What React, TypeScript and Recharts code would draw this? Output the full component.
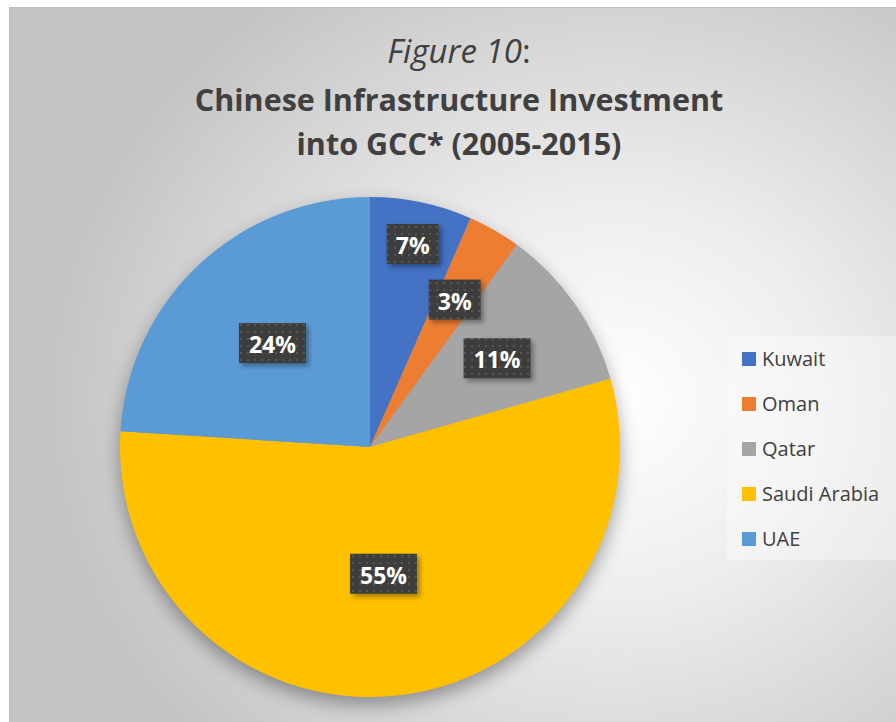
import React from 'react';
import { PieChart, Pie, Cell, Legend } from 'recharts';

const COUNTRIES = ['Kuwait', 'Oman', 'Qatar', 'Saudi Arabia', 'UAE'];
const SHARES = [6.6, 3.4, 10.6, 55.4, 24.0];
const COLORS = ['#4472C4', '#ED7D31', '#A5A5A5', '#FFC000', '#5B9BD5'];

// label distance from centre, as a share of the radius (Excel "best fit" look)
const LABEL_R = [0.83, 0.68, 0.62, 0.51, 0.57];

const data = COUNTRIES.map((name, i) => ({ name, value: SHARES[i] }));

const FONT = '"Open Sans", "Noto Sans", sans-serif';
const RAD = Math.PI / 180;

const renderLabel = (props: any) => {
  const { cx, cy, midAngle, outerRadius, percent, index } = props;
  const r = outerRadius * LABEL_R[index];
  const x = cx + r * Math.cos(-midAngle * RAD);
  const y = cy + r * Math.sin(-midAngle * RAD);
  const text = `${Math.round(percent * 100)}%`;
  const w = 22 + 15 * text.length;
  const h = 40;
  return (
    <g key={`lbl-${index}`}>
      <rect x={x - w / 2} y={y - h / 2} width={w} height={h} fill="url(#dots)" filter="url(#lblShadow)" />
      <text
        x={x}
        y={y + 1}
        textAnchor="middle"
        dominantBaseline="central"
        fill="#ffffff"
        fontFamily={FONT}
        fontWeight={700}
        fontSize={23}
      >
        {text}
      </text>
    </g>
  );
};

const renderLegend = (props: any) => {
  const { payload } = props;
  return (
    <div
      style={{
        width: 169,
        height: 224,
        background: 'rgba(255,255,255,0.35)',
        boxSizing: 'border-box',
      }}
    >
      {payload.map((entry: any, i: number) => (
        <div key={i} style={{ display: 'flex', alignItems: 'center', height: 45 }}>
          <div style={{ width: 14, height: 14, background: entry.color, marginLeft: 15, marginRight: 6 }} />
          <span style={{ fontFamily: FONT, fontSize: 20, color: '#404040' }}>{entry.value}</span>
        </div>
      ))}
    </div>
  );
};

export default function App() {
  return (
    <div style={{ position: 'absolute', left: 0, top: 0, width: 896, height: 722, overflow: 'hidden', background: '#ffffff' }}>
      <style>{`.recharts-pie { filter: drop-shadow(0px 8px 9px rgba(0,0,0,0.35)); }`}</style>
      <svg width={0} height={0} style={{ position: 'absolute' }}>
        <defs>
          <pattern id="dots" width={7} height={7} patternUnits="userSpaceOnUse">
            <rect width={7} height={7} fill="#3d3d3d" />
            <rect x={2} y={2} width={2} height={2} fill="#575757" />
          </pattern>
          <filter id="lblShadow" x="-30%" y="-30%" width="160%" height="160%">
            <feDropShadow dx={3} dy={3} stdDeviation={2.5} floodColor="#000" floodOpacity={0.35} />
          </filter>
        </defs>
      </svg>
      <div
        style={{
          position: 'absolute',
          left: 9,
          top: 7,
          width: 900,
          height: 730,
          border: '1px solid #bfbfbf',
          boxSizing: 'border-box',
          background:
            'radial-gradient(ellipse 560px 500px at 67% 54%, #ffffff 0%, #ededed 40%, #d2d2d2 80%, #c4c4c4 100%)',
        }}
      />
      <svg width={896} height={180} style={{ position: 'absolute', left: 0, top: 0 }}>
        <g fontFamily={FONT} fill="#404040" textAnchor="middle">
          <text x={459} y={63} fontSize={33} fontStyle="italic">
            Figure 10<tspan fontStyle="normal">:</tspan>
          </text>
          <text x={459} y={111} fontSize={30.5} fontWeight={700}>
            Chinese Infrastructure Investment
          </text>
          <text x={459} y={155} fontSize={30.5} fontWeight={700}>
            into GCC* (2005-2015)
          </text>
        </g>
      </svg>
      <div style={{ position: 'absolute', left: 0, top: 0 }}>
        <PieChart width={896} height={722} margin={{ top: 0, right: 0, bottom: 0, left: 0 }}>
          <Pie
            data={data}
            dataKey="value"
            nameKey="name"
            cx={370}
            cy={447}
            outerRadius={250}
            startAngle={90}
            endAngle={-270}
            stroke="none"
            label={renderLabel}
            labelLine={false}
            isAnimationActive={false}
          >
            {data.map((entry, index) => (
              <Cell key={`cell-${index}`} fill={COLORS[index]} />
            ))}
          </Pie>
          <Legend
            layout="vertical"
            content={renderLegend}
            wrapperStyle={{ position: 'absolute', left: 727, top: 336, width: 169, height: 224 }}
          />
        </PieChart>
      </div>
    </div>
  );
}
